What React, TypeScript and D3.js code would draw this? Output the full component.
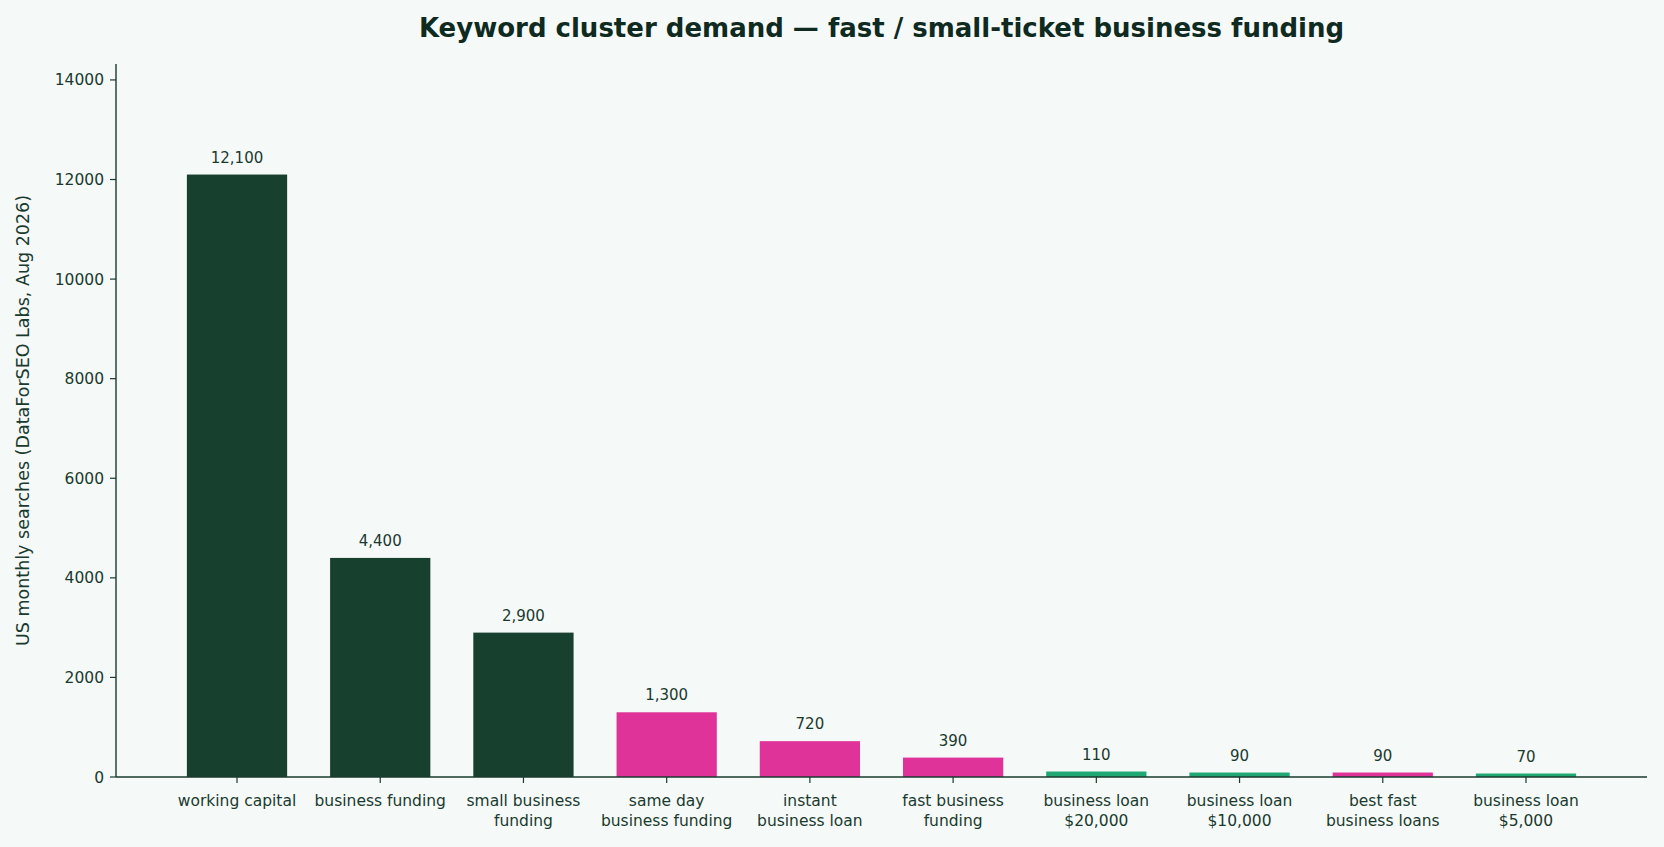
import * as d3 from 'd3';

const categories = [
  ['working capital'],
  ['business funding'],
  ['small business', 'funding'],
  ['same day', 'business funding'],
  ['instant', 'business loan'],
  ['fast business', 'funding'],
  ['business loan', '$20,000'],
  ['business loan', '$10,000'],
  ['best fast', 'business loans'],
  ['business loan', '$5,000'],
];
const values = [12100, 4400, 2900, 1300, 720, 390, 110, 90, 90, 70];
const groups = ['core', 'core', 'core', 'fast', 'fast', 'fast', 'ticket', 'ticket', 'fast', 'ticket'];
const yTicks = [0, 2000, 4000, 6000, 8000, 10000, 12000, 14000];

const colors: Record<string, string> = { core: '#18402e', fast: '#e0339a', ticket: '#1fa874' };
const ink = '#1a3a2e';

export default function App() {
  const W = 1664, H = 847;
  const left = 116, right = 1647, top = 64, bottom = 777;
  const x = d3.scaleBand<number>().domain(d3.range(values.length)).range([165.4, 1597.6]).paddingInner(0.3).paddingOuter(0.15);
  const y = d3.scaleLinear().domain([0, 14320]).range([bottom, top]);
  const fmt = d3.format(',');
  return (
    <svg width={W} height={H} style={{ position: 'absolute', left: 0, top: 0, background: '#f5f9f8', fontFamily: 'DejaVu Sans' }}>
      <rect width={W} height={H} fill="#f5f9f8" />
      <text x={(left + right) / 2} y={37} textAnchor="middle" fontSize={26} fontWeight="bold" fill="#0f2a20">
        Keyword cluster demand — fast / small-ticket business funding
      </text>
      {values.map((v, i) => (
        <g key={i}>
          <rect x={x(i)} y={y(v)} width={x.bandwidth()} height={bottom - y(v)} fill={colors[groups[i]]} />
          <text x={x(i)! + x.bandwidth() / 2} y={y(v) - 12} textAnchor="middle" fontSize={15} fill={ink}>{fmt(v)}</text>
          <line x1={x(i)! + x.bandwidth() / 2} x2={x(i)! + x.bandwidth() / 2} y1={bottom} y2={bottom + 6} stroke={ink} strokeWidth={1.2} />
          {categories[i].map((t, j) => (
            <text key={j} x={x(i)! + x.bandwidth() / 2} y={bottom + 29 + j * 20} textAnchor="middle" fontSize={15.5} fill={ink}>{t}</text>
          ))}
        </g>
      ))}
      {yTicks.map((t) => (
        <g key={t}>
          <line x1={left - 6} x2={left} y1={y(t)} y2={y(t)} stroke={ink} strokeWidth={1.2} />
          <text x={left - 12} y={y(t) + 5.5} textAnchor="end" fontSize={15.5} fill={ink}>{t}</text>
        </g>
      ))}
      <line x1={left} x2={left} y1={top} y2={bottom} stroke={ink} strokeWidth={1.4} />
      <line x1={left} x2={right} y1={bottom} y2={bottom} stroke={ink} strokeWidth={1.4} />
      <text transform={`translate(29,${(top + bottom) / 2}) rotate(-90)`} textAnchor="middle" fontSize={17.5} fill={ink}>
        US monthly searches (DataForSEO Labs, Aug 2026)
      </text>
    </svg>
  );
}
